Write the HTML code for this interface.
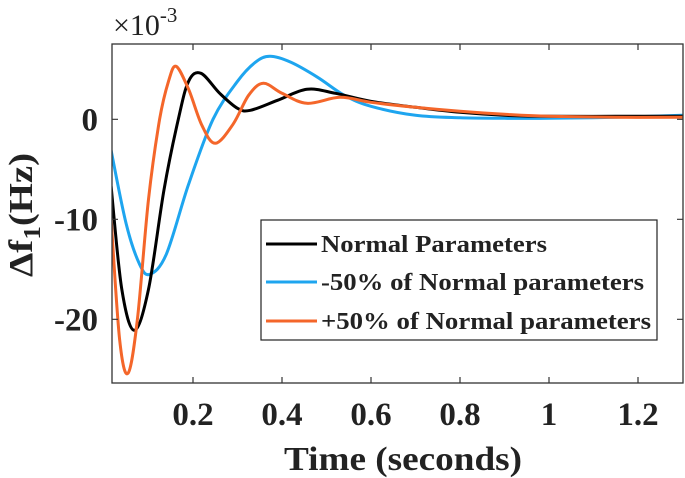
<!DOCTYPE html>
<html><head><meta charset="utf-8"><style>
html,body{margin:0;padding:0;background:#fff;}
svg{display:block;font-family:"Liberation Serif",serif;}
</style></head><body>
<svg id="chart" width="685" height="478">
<rect x="0" y="0" width="685" height="478" fill="#fff"/>
<g id="plot"></g>
<g id="axes"></g>
<text x="113" y="35" font-size="30" fill="#222">×10<tspan font-size="21" dy="-13">-3</tspan></text>
<text x="403" y="470" font-size="34" font-weight="bold" fill="#222" text-anchor="middle" textLength="238" lengthAdjust="spacingAndGlyphs">Time (seconds)</text>
<text transform="translate(32,215) rotate(-90)" font-size="34" font-weight="bold" fill="#222" text-anchor="middle" textLength="124" lengthAdjust="spacingAndGlyphs">Δf<tspan font-size="24" dy="8">1</tspan><tspan dy="-8">(Hz)</tspan></text>
<g>
<rect x="261" y="220" width="396" height="120" fill="#fff" stroke="#222" stroke-width="1.2"/>
<line x1="266" y1="244" x2="317" y2="244" stroke="#000" stroke-width="3"/>
<text x="321" y="252" font-size="24" font-weight="bold" fill="#222" textLength="226" lengthAdjust="spacingAndGlyphs">Normal Parameters</text>
<line x1="266" y1="282" x2="317" y2="282" stroke="#1ea5ef" stroke-width="3"/>
<text x="321" y="290" font-size="24" font-weight="bold" fill="#222" textLength="323" lengthAdjust="spacingAndGlyphs">-50% of Normal parameters</text>
<line x1="266" y1="321" x2="317" y2="321" stroke="#f4662a" stroke-width="3"/>
<text x="321" y="329" font-size="24" font-weight="bold" fill="#222" textLength="330" lengthAdjust="spacingAndGlyphs">+50% of Normal parameters</text>
</g>
</svg>
<script>
const xTicks=[0.2,0.4,0.6,0.8,1,1.2];
const xTickLabels=["0.2","0.4","0.6","0.8","1","1.2"];
const yTicks=[0,-10,-20];
const yTickLabels=["0","-10","-20"];
const tNormal=[0.016,0.04,0.068,0.1,0.135,0.167,0.19,0.218,0.26,0.3,0.329,0.39,0.456,0.52,0.6,0.7,0.8,0.9,1.0,1.15,1.3];
const vNormal=[-6.7,-17,-21.1,-17,-7,0,3.8,4.6,2.6,1.1,0.9,1.9,3.0,2.6,1.8,1.2,0.7,0.4,0.3,0.3,0.3];
const tMinus=[0.016,0.05,0.08,0.103,0.14,0.19,0.245,0.3,0.34,0.373,0.42,0.48,0.54,0.6,0.7,0.8,0.9,1.0,1.15,1.3];
const vMinus=[-3.1,-10.5,-14.5,-15.5,-13.5,-6.5,0,3.8,5.7,6.3,5.7,4.2,2.4,1.3,0.4,0.15,0.1,0.1,0.2,0.4];
const tPlus=[0.016,0.035,0.054,0.075,0.1,0.125,0.145,0.162,0.19,0.22,0.25,0.29,0.325,0.358,0.4,0.456,0.53,0.6,0.7,0.8,0.9,1.0,1.15,1.3];
const vPlus=[-9.9,-22,-25.4,-20,-8,0,3.8,5.3,3,-0.6,-2.4,-0.5,2.4,3.6,2.6,1.6,2.2,1.7,1.2,0.8,0.5,0.3,0.2,0.2];

const L=112,R=683,T=44,B=383;
function xs(t){return 104+(t/0.2)*89;}
function ys(v){return 119.3-v*10;}
const NS="http://www.w3.org/2000/svg";
function mk(tag,attrs,parent){const e=document.createElementNS(NS,tag);for(const k in attrs)e.setAttribute(k,attrs[k]);parent.appendChild(e);return e;}
function pathFrom(ts,vs){
  const p=ts.map((t,i)=>[xs(t),ys(vs[i])]);
  let d="M"+p[0][0].toFixed(1)+","+p[0][1].toFixed(1);
  for(let i=0;i<p.length-1;i++){
    const p0=p[Math.max(0,i-1)],p1=p[i],p2=p[i+1],p3=p[Math.min(p.length-1,i+2)];
    const c1=[p1[0]+(p2[0]-p0[0])/6,p1[1]+(p2[1]-p0[1])/6];
    const c2=[p2[0]-(p3[0]-p1[0])/6,p2[1]-(p3[1]-p1[1])/6];
    d+="C"+c1[0].toFixed(1)+","+c1[1].toFixed(1)+" "+c2[0].toFixed(1)+","+c2[1].toFixed(1)+" "+p2[0].toFixed(1)+","+p2[1].toFixed(1);
  }
  return d;
}
const plot=document.getElementById('plot');
const axes=document.getElementById('axes');
const defs=mk('defs',{},plot);
const cp=mk('clipPath',{id:'clip'},defs);
mk('rect',{x:L,y:T,width:R-L,height:B-T},cp);
const series=[[tMinus,vMinus,'#1ea5ef','series-minus50'],[tNormal,vNormal,'#000','series-normal'],[tPlus,vPlus,'#f4662a','series-plus50']];
series.forEach(s=>{
  const el=mk('path',{d:pathFrom(s[0],s[1]),fill:'none',stroke:s[2],'stroke-width':3,'clip-path':'url(#clip)'},plot);
  
  
});
const box=mk('rect',{x:L,y:T,width:R-L,height:B-T,fill:'none',stroke:'#333','stroke-width':1.3},axes);


xTicks.forEach((t,i)=>{
  const x=xs(t);
  const tk=mk('path',{d:`M${x},${B}V${B-6}M${x},${T}V${T+6}`,stroke:'#333','stroke-width':1.2},axes);
  
  
  const lb=mk('text',{x:x,y:425,'font-size':33,'font-weight':'bold',fill:'#222','text-anchor':'middle'},axes);
  lb.textContent=xTickLabels[i];
  
  
});
yTicks.forEach((v,i)=>{
  const y=ys(v);
  const tk=mk('path',{d:`M${L},${y}H${L+6}M${R},${y}H${R-6}`,stroke:'#333','stroke-width':1.2},axes);
  
  
  const lb=mk('text',{x:98,y:y+11,'font-size':33,'font-weight':'bold',fill:'#222','text-anchor':'end'},axes);
  lb.textContent=yTickLabels[i];
  
  
});
</script>
</body></html>
